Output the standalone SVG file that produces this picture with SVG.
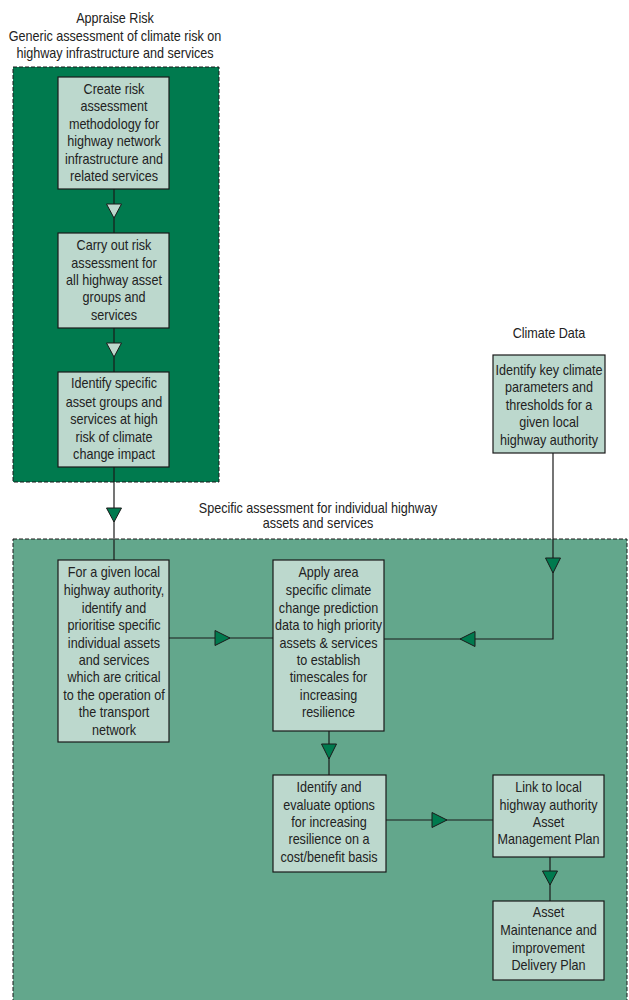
<svg xmlns="http://www.w3.org/2000/svg" width="629" height="1000" viewBox="0 0 629 1000">
  <style>
    text { font-family: "Liberation Sans Narrow", "Arial Narrow", "Liberation Sans", sans-serif; font-size: 14px; fill: #222; text-anchor: middle; }
    .zone { stroke: #1a1a1a; stroke-width: 1; stroke-dasharray: 4 2; }
    .appraise { fill: #007a4e; }
    .specific { fill: #63a78c; }
    .box { fill: #bcd8cd; stroke: #1a1a1a; stroke-width: 1.2; }
    .link { fill: none; stroke: #1a1a1a; stroke-width: 1.2; }
    .head { fill: #007a4e; stroke: #1a1a1a; stroke-width: 1; }
    .head-light { fill: #bcd8cd; stroke: #1a1a1a; stroke-width: 1; }
  </style>

  <rect width="629" height="1000" fill="#ffffff"/>

  <!-- zones; labels are narrowed horizontally around their centre line -->
  <g id="zone-appraise">
    <rect class="zone appraise" x="13" y="67" width="206" height="415"/>
    <g transform="translate(115 0) scale(0.9 1)">
      <text x="0" y="23">Appraise Risk</text>
      <text x="0" y="41">Generic assessment of climate risk on</text>
      <text x="0" y="58">highway infrastructure and services</text>
    </g>
  </g>
  <g id="zone-specific">
    <rect class="zone specific" x="13" y="539" width="614" height="470"/>
    <g transform="translate(318 0) scale(0.9 1)">
      <text x="0" y="513">Specific assessment for individual highway</text>
      <text x="0" y="528">assets and services</text>
    </g>
  </g>
  <g id="zone-climate">
    <g transform="translate(549 0) scale(0.9 1)">
      <text x="0" y="338">Climate Data</text>
    </g>
  </g>

  <!-- connectors -->
  <g id="connectors">
    <path class="link" d="M114 189 V233"/>
    <path class="link" d="M114 328 V372"/>
    <path class="link" d="M114 467 V560"/>
    <path class="link" d="M553 453 V639 H384"/>
    <path class="link" d="M169 638 H273"/>
    <path class="link" d="M329 731 V775"/>
    <path class="link" d="M386 820 H493"/>
    <path class="link" d="M550 857 V901"/>
    <polygon class="head-light" points="106.5,204 121.5,204 114,218"/>
    <polygon class="head-light" points="106.5,343 121.5,343 114,357"/>
    <polygon class="head" points="106.5,508 121.5,508 114,522"/>
    <polygon class="head" points="545.5,558 560.5,558 553,573"/>
    <polygon class="head" points="215,630.5 215,645.5 230,638"/>
    <polygon class="head" points="475,631.5 475,646.5 460,639"/>
    <polygon class="head" points="321.5,744 336.5,744 329,759"/>
    <polygon class="head" points="432,812.5 432,827.5 447,820"/>
    <polygon class="head" points="542.5,871 557.5,871 550,885"/>
  </g>

  <!-- process steps -->
  <g id="n-methodology">
    <rect class="box" x="58" y="77" width="111" height="112"/>
    <g transform="translate(114 0) scale(0.9 1)">
      <text x="0" y="94">Create risk</text>
      <text x="0" y="111">assessment</text>
      <text x="0" y="129">methodology for</text>
      <text x="0" y="146">highway network</text>
      <text x="0" y="164">infrastructure and</text>
      <text x="0" y="181">related services</text>
    </g>
  </g>
  <g id="n-risk-assessment">
    <rect class="box" x="58" y="233" width="111" height="95"/>
    <g transform="translate(114 0) scale(0.9 1)">
      <text x="0" y="250">Carry out risk</text>
      <text x="0" y="268">assessment for</text>
      <text x="0" y="285">all highway asset</text>
      <text x="0" y="302">groups and</text>
      <text x="0" y="320">services</text>
    </g>
  </g>
  <g id="n-high-risk">
    <rect class="box" x="58" y="372" width="111" height="95"/>
    <g transform="translate(114 0) scale(0.9 1)">
      <text x="0" y="388">Identify specific</text>
      <text x="0" y="407">asset groups and</text>
      <text x="0" y="424">services at high</text>
      <text x="0" y="442">risk of climate</text>
      <text x="0" y="459">change impact</text>
    </g>
  </g>
  <g id="n-climate-parameters">
    <rect class="box" x="493" y="355" width="112" height="98"/>
    <g transform="translate(549 0) scale(0.9 1)">
      <text x="0" y="375">Identify key climate</text>
      <text x="0" y="392">parameters and</text>
      <text x="0" y="410">thresholds for a</text>
      <text x="0" y="427">given local</text>
      <text x="0" y="445">highway authority</text>
    </g>
  </g>
  <g id="n-prioritise">
    <rect class="box" x="58" y="560" width="111" height="182"/>
    <g transform="translate(114 0) scale(0.9 1)">
      <text x="0" y="577">For a given local</text>
      <text x="0" y="595">highway authority,</text>
      <text x="0" y="613">identify and</text>
      <text x="0" y="630">prioritise specific</text>
      <text x="0" y="648">individual assets</text>
      <text x="0" y="665">and services</text>
      <text x="0" y="682">which are critical</text>
      <text x="0" y="700">to the operation of</text>
      <text x="0" y="717">the transport</text>
      <text x="0" y="735">network</text>
    </g>
  </g>
  <g id="n-apply-prediction">
    <rect class="box" x="273" y="560" width="111" height="171"/>
    <g transform="translate(328.5 0) scale(0.9 1)">
      <text x="0" y="577">Apply area</text>
      <text x="0" y="595">specific climate</text>
      <text x="0" y="613">change prediction</text>
      <text x="0" y="630">data to high priority</text>
      <text x="0" y="648">assets &amp; services</text>
      <text x="0" y="665">to establish</text>
      <text x="0" y="682">timescales for</text>
      <text x="0" y="700">increasing</text>
      <text x="0" y="717">resilience</text>
    </g>
  </g>
  <g id="n-evaluate-options">
    <rect class="box" x="273" y="775" width="113" height="97"/>
    <g transform="translate(329 0) scale(0.9 1)">
      <text x="0" y="792">Identify and</text>
      <text x="0" y="810">evaluate options</text>
      <text x="0" y="827">for increasing</text>
      <text x="0" y="844">resilience on a</text>
      <text x="0" y="862">cost/benefit basis</text>
    </g>
  </g>
  <g id="n-asset-management">
    <rect class="box" x="493" y="775" width="111" height="82"/>
    <g transform="translate(548.5 0) scale(0.9 1)">
      <text x="0" y="792">Link to local</text>
      <text x="0" y="810">highway authority</text>
      <text x="0" y="827">Asset</text>
      <text x="0" y="844">Management Plan</text>
    </g>
  </g>
  <g id="n-delivery-plan">
    <rect class="box" x="493" y="901" width="111" height="79"/>
    <g transform="translate(548.5 0) scale(0.9 1)">
      <text x="0" y="917">Asset</text>
      <text x="0" y="935">Maintenance and</text>
      <text x="0" y="953">improvement</text>
      <text x="0" y="970">Delivery Plan</text>
    </g>
  </g>
</svg>
